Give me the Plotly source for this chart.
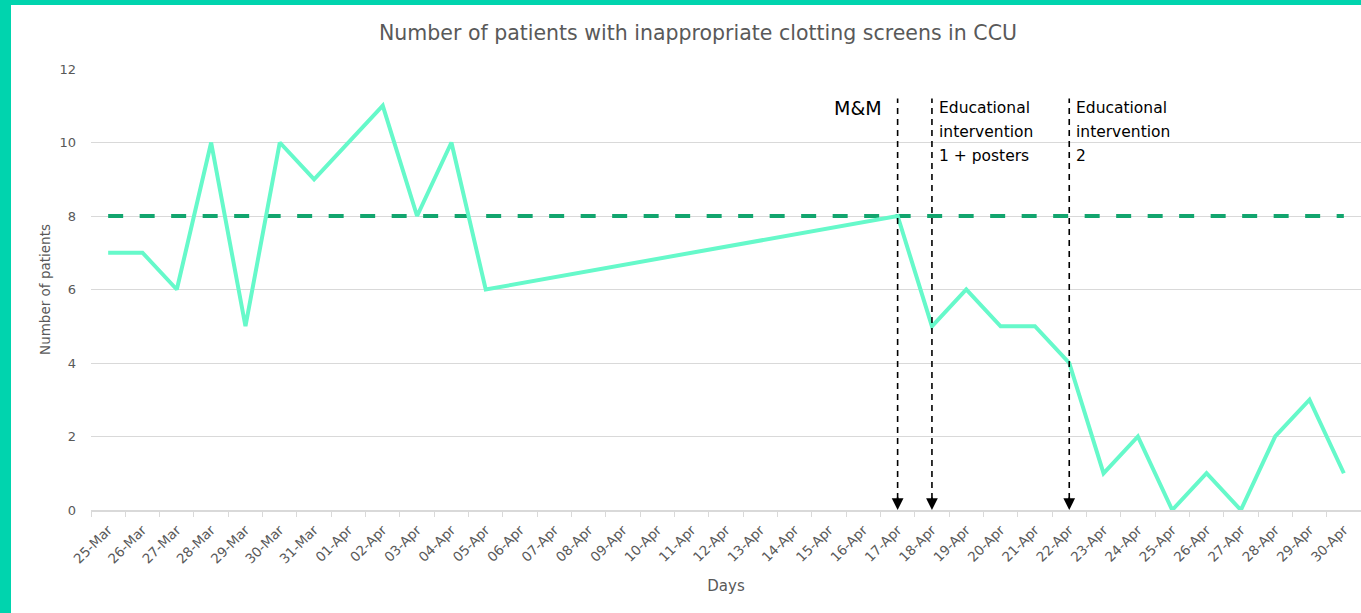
import plotly.graph_objects as go

dates = ["25-Mar", "26-Mar", "27-Mar", "28-Mar", "29-Mar", "30-Mar", "31-Mar",
         "01-Apr", "02-Apr", "03-Apr", "04-Apr", "05-Apr", "06-Apr", "07-Apr",
         "08-Apr", "09-Apr", "10-Apr", "11-Apr", "12-Apr", "13-Apr", "14-Apr",
         "15-Apr", "16-Apr", "17-Apr", "18-Apr", "19-Apr", "20-Apr", "21-Apr",
         "22-Apr", "23-Apr", "24-Apr", "25-Apr", "26-Apr", "27-Apr", "28-Apr",
         "29-Apr", "30-Apr"]
patients = [7, 7, 6, 10, 5, 10, 9, 10, 11, 8, 10, 6,
            None, None, None, None, None, None, None, None, None, None, None,
            8, 5, 6, 5, 5, 4, 1, 2, 0, 1, 0, 2, 3, 1]
baseline = [8] * len(dates)

events = ["17-Apr", "18-Apr", "22-Apr"]
event_labels = [["M&M"], ["Educational", "intervention", "1 + posters"],
                ["Educational", "intervention", "2"]]

FONT = "DejaVu Sans"
GREY = "#595959"
W, H = 1361, 613
ML, MR, MT, MB = 91, 0, 69, 103
PW, PH = W - ML - MR, H - MT - MB

fig = go.Figure()
fig.add_trace(go.Scatter(x=dates, y=baseline, mode="lines",
                         line=dict(color="#12A56E", width=4, dash="15px,16.5px"),
                         showlegend=False, hoverinfo="skip"))
fig.add_trace(go.Scatter(x=dates, y=patients, mode="lines", connectgaps=True,
                         line=dict(color="#66F9CA", width=4),
                         showlegend=False))

shapes = []
annotations = []
for ev in events:
    shapes.append(dict(type="line", xref="x", yref="y", x0=ev, x1=ev, y0=0.3, y1=11.2,
                       line=dict(color="black", width=1.6, dash="6px,5px")))
    annotations.append(dict(x=ev, y=0, xref="x", yref="y", ax=0, ay=-14,
                            showarrow=True, arrowhead=2, arrowsize=1.3,
                            arrowwidth=1.8, arrowcolor="black", text=""))

# M&M label
annotations.append(dict(x=events[0], y=10.94, xref="x", yref="y", text=event_labels[0][0],
                        showarrow=False, xanchor="right", yanchor="middle", xshift=-14,
                        font=dict(family=FONT, size=19, color="black")))
for ev, lines in zip(events[1:], event_labels[1:]):
    for i, t in enumerate(lines):
        annotations.append(dict(x=ev, y=10.94 - i * 24 / 36.75, xref="x", yref="y", text=t,
                                showarrow=False, xanchor="left", yanchor="middle", xshift=5,
                                font=dict(family=FONT, size=15.5, color="black")))

# teal frame strips
shapes.append(dict(type="rect", xref="paper", yref="paper",
                   x0=-ML / PW, x1=(11 - ML) / PW, y0=-MB / PH, y1=1 + MT / PH,
                   fillcolor="#00D4AE", line=dict(width=0), layer="below"))
shapes.append(dict(type="rect", xref="paper", yref="paper",
                   x0=-ML / PW, x1=1.0 + 5 / PW, y0=1 + (MT - 5) / PH, y1=1 + MT / PH,
                   fillcolor="#00D4AE", line=dict(width=0), layer="below"))

fig.update_layout(
    width=W, height=H,
    margin=dict(l=ML, r=MR, t=MT, b=MB, autoexpand=False),
    paper_bgcolor="white", plot_bgcolor="white",
    font=dict(family=FONT, color=GREY),
    title=dict(text="Number of patients with inappropriate clotting screens in CCU",
               x=698 / W, xref="container", xanchor="center", y=1 - 33 / H, yanchor="middle",
               font=dict(family=FONT, size=20.5, color=GREY)),
    shapes=shapes,
    annotations=annotations,
    xaxis=dict(type="category", categoryorder="array", categoryarray=dates,
               range=[-0.5, len(dates) - 0.5], tickangle=-45, automargin=False,
               tickfont=dict(size=13.5, color=GREY), ticklabelstandoff=5,
               ticks="outside", ticklen=5, tickcolor="#D9D9D9", tickson="boundaries",
               showline=True, linecolor="#D9D9D9", linewidth=1.5, showgrid=False,
               title=dict(text="Days", font=dict(size=15, color=GREY), standoff=15)),
    yaxis=dict(range=[0, 12], dtick=2, showgrid=True, gridcolor="#D9D9D9", gridwidth=1.2,
               zeroline=False, showline=False, tickfont=dict(size=13, color=GREY),
               ticklabelstandoff=14, automargin=False,
               title=dict(text="Number of patients", font=dict(size=13.5, color=GREY),
                          standoff=5)),
)

fig.write_html("out.html", config={"displayModeBar": False},
               post_script="document.body.style.margin='0px';document.body.style.overflow='hidden';")
